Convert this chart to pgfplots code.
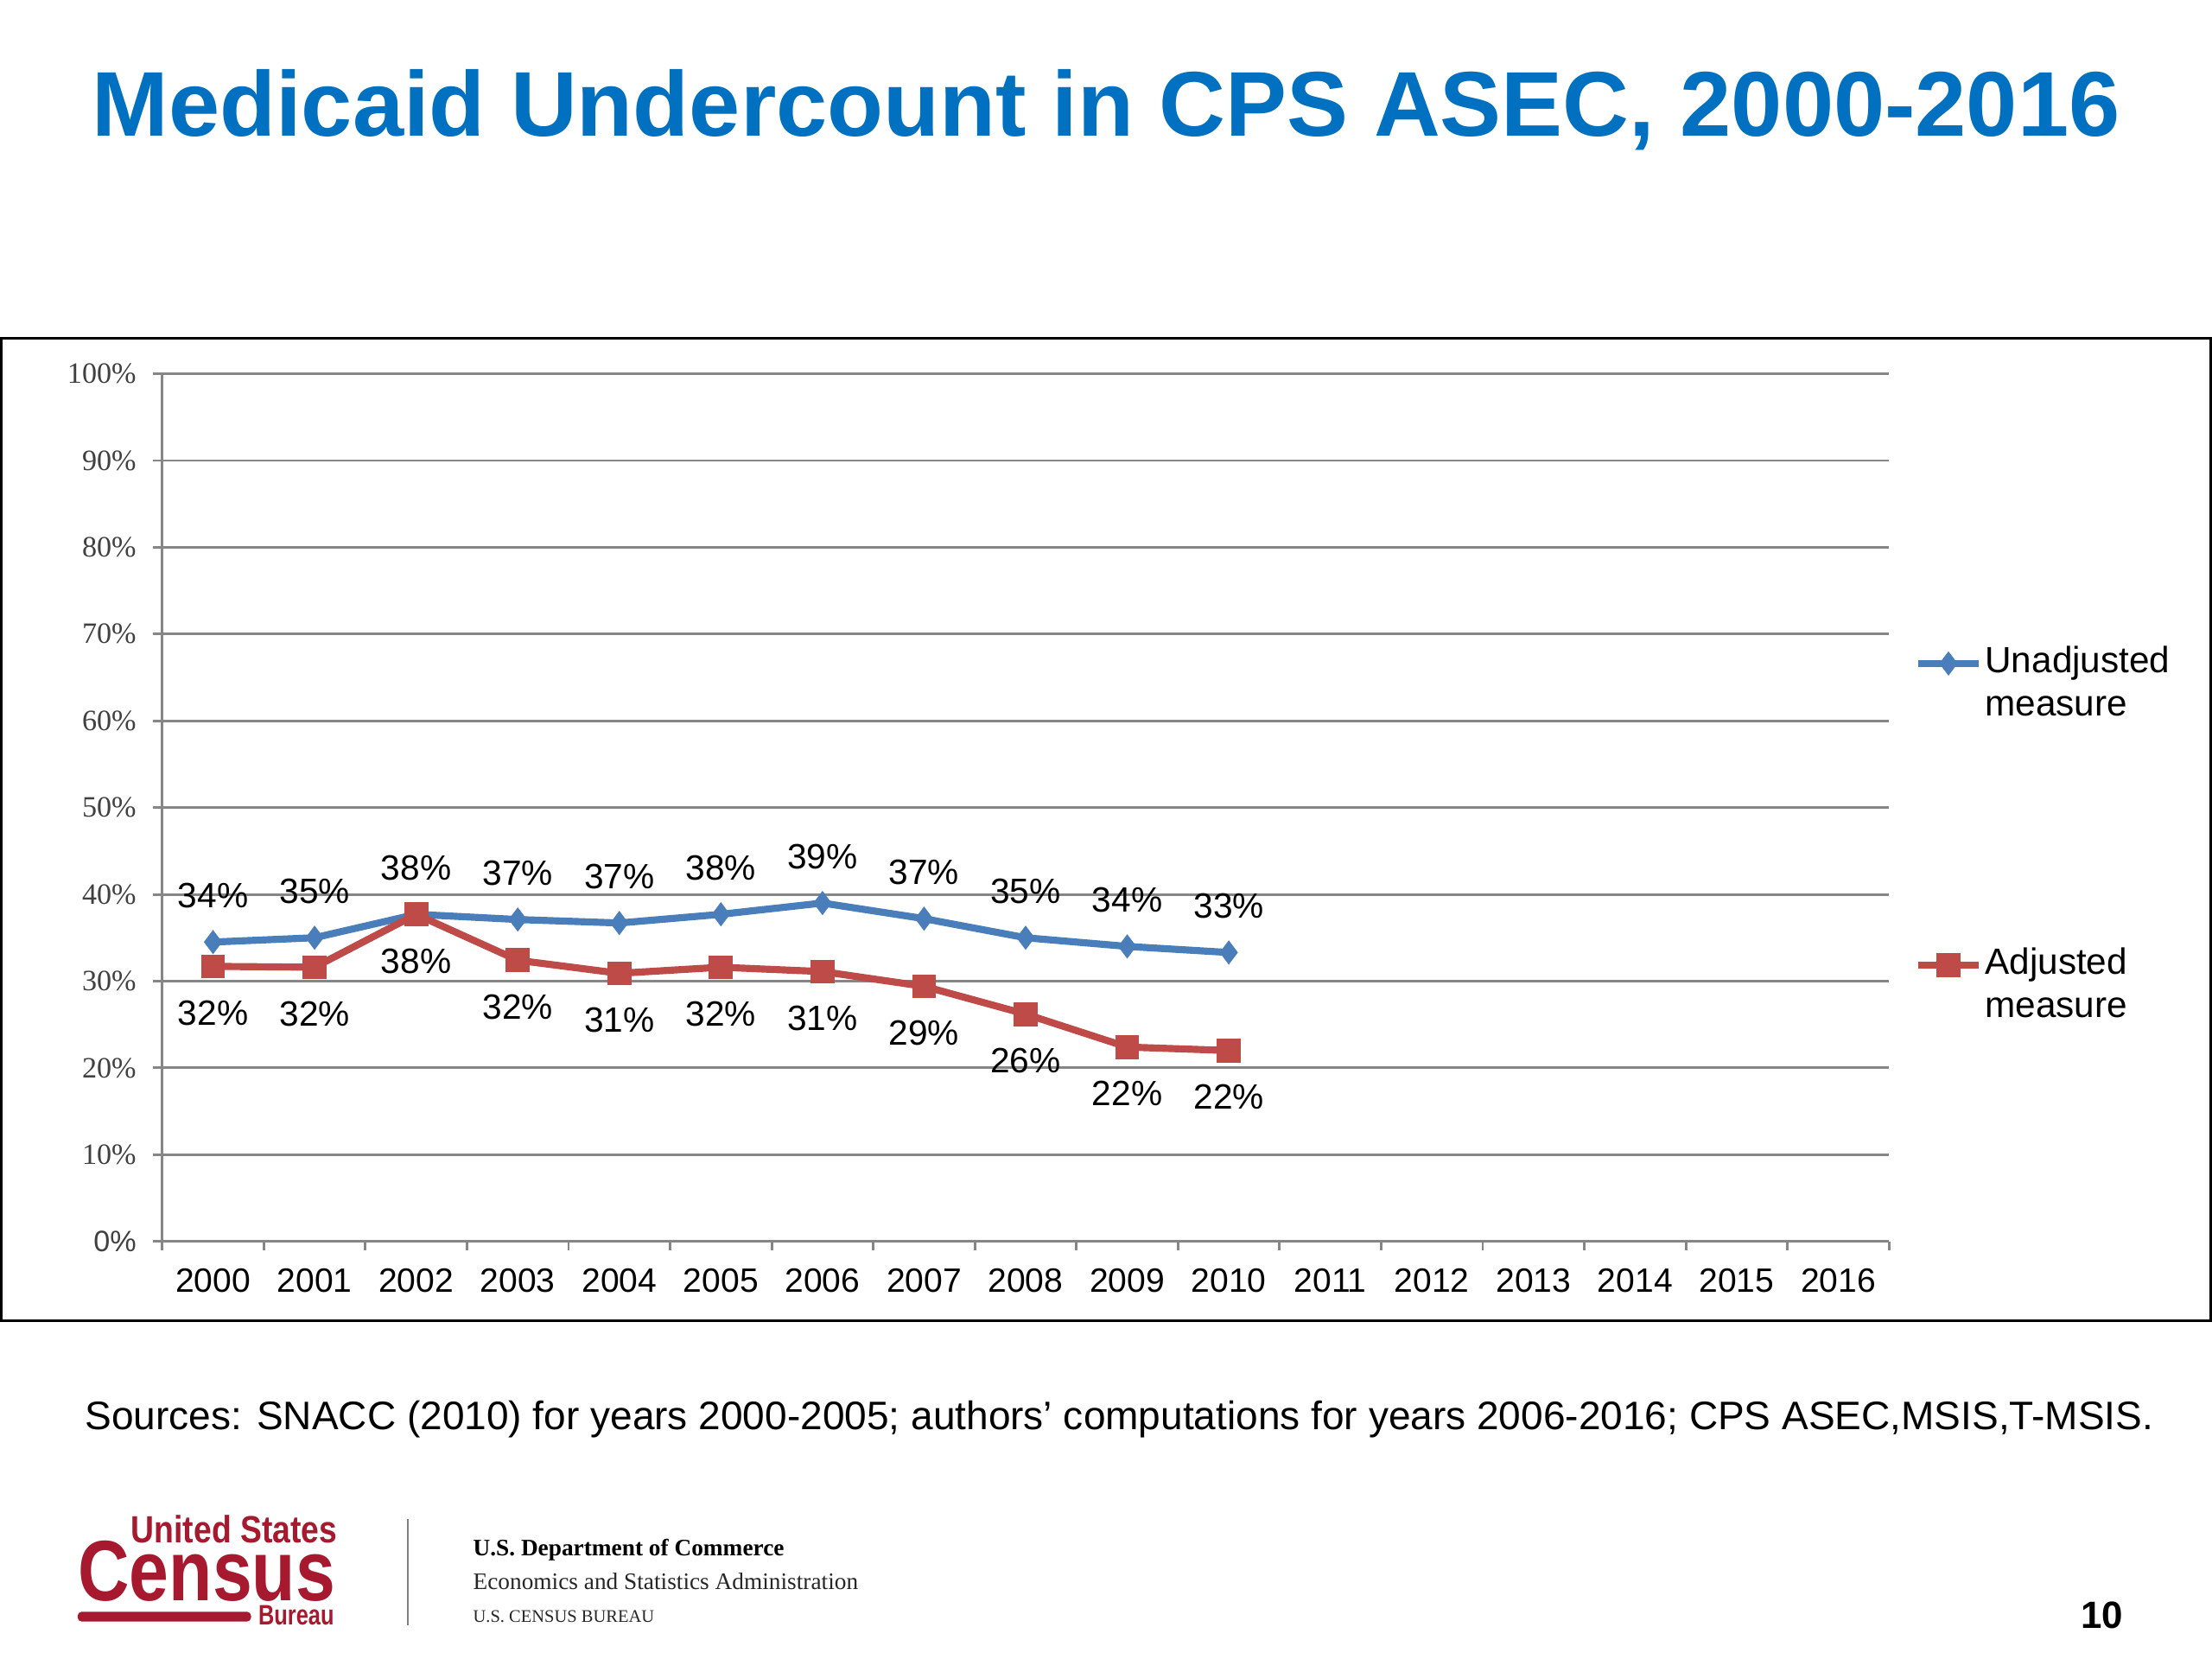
\documentclass[border=0pt]{standalone}
\usepackage{fontspec}
\setmainfont{Liberation Sans}
\setsansfont{Liberation Sans}
\newfontfamily\seriffont{Liberation Serif}
\usepackage{pgfplots}
\usepackage{pgfplotstable}
\pgfplotsset{compat=1.18}
\definecolor{titleblue}{RGB}{0,112,192}
\definecolor{ublue}{RGB}{74,126,187}
\definecolor{ared}{RGB}{190,75,72}
\definecolor{gridgray}{RGB}{134,134,134}
\definecolor{censusred}{RGB}{166,25,46}
\definecolor{ticktext}{RGB}{64,64,64}

\pgfplotstableread{
x y lab
0 34.5 34
1 35.0 35
2 37.7 38
3 37.1 37
4 36.7 37
5 37.7 38
6 39.0 39
7 37.2 37
8 35.0 35
9 34.0 34
10 33.3 33
}\unadj
\pgfplotstableread{
x y lab
0 31.7 32
1 31.6 32
2 37.7 38
3 32.4 32
4 30.9 31
5 31.6 32
6 31.1 31
7 29.4 29
8 26.2 26
9 22.4 22
10 22.0 22
}\adj

\begin{document}
\begin{tikzpicture}[x=0.5bp,y=0.5bp]
\path[use as bounding box, fill=white] (0,0) rectangle (1568,1176);
% title
\node[font=\fontsize{32.7}{38}\selectfont\bfseries, text=titleblue] at (784,1098) {Medicaid Undercount in CPS ASEC, 2000-2016};
% chart frame
\draw[line width=1bp] (1,936) rectangle (1567,240);
\begin{axis}[
  at={(57.5bp,148bp)}, anchor=south west,
  scale only axis, width=612bp, height=307.5bp,
  xmin=-0.5, xmax=16.5, ymin=0, ymax=100,
  axis x line=bottom, axis y line=left,
  axis line style={-, draw=gridgray, line width=0.9bp},
  xtick={-0.5,0.5,...,16.5},
  x tick label as interval,
  xticklabels={2000,2001,2002,2003,2004,2005,2006,2007,2008,2009,2010,2011,2012,2013,2014,2015,2016},
  ytick={0,10,...,100},
  yticklabels={{\sffamily\color{ticktext}0\%},10\%,20\%,30\%,40\%,50\%,60\%,70\%,80\%,90\%,100\%},
  tick align=outside, major tick length=3.2bp,
  tick style={draw=gridgray, line width=0.9bp},
  ymajorgrids, major grid style={draw=gridgray, line width=0.9bp},
  xticklabel style={font=\fontsize{12}{14}\selectfont, text=black, yshift=-3bp},
  yticklabel style={font=\fontsize{10.5}{12}\selectfont\seriffont, text=ticktext, xshift=-2.5bp},
  clip=false,
  legend style={draw=none, fill=none, at={(1.0145,0.69)}, anchor=north west,
    font=\fontsize{13}{15.5}\selectfont, row sep=78.5bp, inner sep=0pt,
    nodes={inner sep=1bp, align=left}},
  legend cell align=left,
  legend image code/.code={\draw[mark repeat=2,mark phase=2,#1] plot coordinates {(0bp,7bp) (10.75bp,7bp) (21.5bp,7bp)};},
  nodes near coords={\pgfplotspointmeta\%},
  point meta=explicit symbolic,
]
\addplot[color=ublue, line width=2.5bp, mark=diamond*, mark size=3.9bp,
  mark options={fill=ublue, draw=ublue, line width=0.5bp},
  every node near coord/.style={anchor=center, yshift=16.5bp, font=\fontsize{12.5}{14}\selectfont, text=black}]
  table[x=x, y=y, meta=lab] {\unadj};
\addlegendentry{Unadjusted\\measure}
\addplot[color=ared, line width=2.5bp, mark=square*, mark size=4bp,
  mark options={fill=ared, draw=ared, line width=0.5bp},
  every node near coord/.style={anchor=center, yshift=-16.5bp, font=\fontsize{12.5}{14}\selectfont, text=black}]
  table[x=x, y=y, meta=lab] {\adj};
\addlegendentry{Adjusted\\measure}
\end{axis}
% source
\node[font=\fontsize{14.15}{16}\selectfont] at (793.5,170) {Sources: SNACC (2010) for years 2000-2005; authors’ computations for years 2006-2016; CPS ASEC,MSIS,T-MSIS.};
% logo
\node[inner sep=0, font=\fontsize{13.5}{15}\selectfont\bfseries, text=censusred, xscale=0.85] at (166,92) {United States};
\node[inner sep=0, font=\fontsize{30.5}{32}\selectfont\bfseries, text=censusred, xscale=0.83] at (146.5,62) {Census};
\node[inner sep=0, font=\fontsize{10}{11}\selectfont\bfseries, text=censusred, xscale=0.78] at (210,31) {Bureau};
\fill[censusred, rounded corners=1.5bp] (55,26.5) rectangle (178,33.5);
\draw[gray, line width=0.6bp] (289,99) -- (289,24);
\node[anchor=west, inner sep=0, font=\fontsize{8.4}{10}\selectfont\seriffont\bfseries] at (335,77) {U.S. Department of Commerce};
\node[anchor=west, inner sep=0, font=\fontsize{8.4}{10}\selectfont\seriffont, text=black!85] at (335,55) {Economics and Statistics Administration};
\node[anchor=west, inner sep=0, font=\fontsize{6.3}{8}\selectfont\seriffont, text=black!85] at (335,30) {U.S. CENSUS BUREAU};
\node[font=\fontsize{13.5}{15}\selectfont\bfseries] at (1490,31) {10};
\end{tikzpicture}
\end{document}
